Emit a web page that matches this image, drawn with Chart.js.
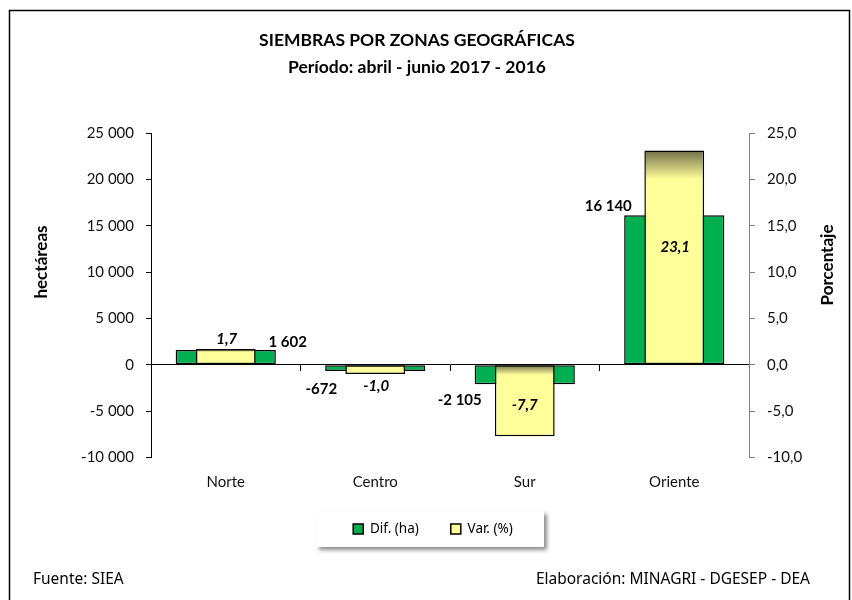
<!DOCTYPE html>
<html lang="es">
<head>
<meta charset="utf-8">
<title>Siembras por zonas geográficas</title>
<script src="https://cdn.jsdelivr.net/npm/chart.js@4.4.1/dist/chart.umd.min.js"></script>
<style>
  html, body { margin: 0; padding: 0; background: #fff; }
</style>
</head>
<body>
<canvas id="siembrasChart" width="852" height="600"></canvas>
<script>
// datos
const zonas = ['Norte', 'Centro', 'Sur', 'Oriente'];
const difHa = [1602, -672, -2105, 16140];
const varPct = [1.7, -1.0, -7.7, 23.1];
const ticksHa = [-10000, -5000, 0, 5000, 10000, 15000, 20000, 25000];
const ticksPct = [-10, -5, 0, 5, 10, 15, 20, 25];

function fmtHa(v) {
    const s = Math.abs(Math.round(v)).toString().replace(/\B(?=(\d{3})+(?!\d))/g, ' ');
    return (v < 0 ? '-' : '') + s;
}
function fmtPct(v) {
    return v.toFixed(1).replace('.', ',');
}

// relleno amarillo con sombreado oscuro en el borde superior de cada barra
function varFill(ctx) {
    const yellow = '#FFFF99';
    if (ctx.type !== 'data') return yellow;
    const chart = ctx.chart;
    const sc = chart.scales.y1;
    if (!sc || !chart.chartArea) return yellow;
    const a = sc.getPixelForValue(ctx.raw);
    const b = sc.getPixelForValue(0);
    const top = Math.min(a, b);
    const h = Math.abs(a - b);
    const g = chart.ctx.createLinearGradient(0, top, 0, top + h * 0.13 + 1);
    g.addColorStop(0, '#726E48');
    g.addColorStop(1, yellow);
    return g;
}

// desplazamientos de las etiquetas respecto al extremo de cada barra
const labelOffsets = {
    dif: [[62, -8], [-54, 18], [-65, 16], [-66, -9]],
    pct: [[1, -10], [1, 12], [0, -31], [1, 97]]
};

const frameAndLabels = {
    id: 'frameAndLabels',
    afterLayout(chart) {
        chart.legend.left += 16;
        chart.legend.right += 16;
    },
    beforeDraw(chart) {
        const ctx = chart.ctx;
        ctx.save();
        ctx.fillStyle = '#fff';
        ctx.fillRect(0, 0, chart.width, chart.height);
        ctx.strokeStyle = '#000';
        ctx.lineWidth = 1.5;
        ctx.strokeRect(9.5, 10.5, 840, 620);

        // caja de la leyenda con sombra
        const lg = chart.legend;
        const cx = (lg.left + lg.right) / 2 - 3;
        ctx.shadowColor = 'rgba(0,0,0,0.45)';
        ctx.shadowBlur = 4;
        ctx.shadowOffsetX = 3;
        ctx.shadowOffsetY = 3;
        ctx.fillStyle = '#fff';
        ctx.fillRect(cx - 114, 511, 228, 36);
        ctx.restore();
    },
    afterDatasetsDraw(chart) {
        const ctx = chart.ctx;
        ctx.save();
        ctx.fillStyle = '#000';
        ctx.textAlign = 'center';
        ctx.textBaseline = 'middle';

        ctx.font = 'bold 15px Lato';
        chart.getDatasetMeta(0).data.forEach((bar, i) => {
            const o = labelOffsets.dif[i];
            ctx.fillText(fmtHa(difHa[i]), bar.x + o[0], bar.y + o[1]);
        });
        ctx.font = 'italic bold 15px Lato';
        chart.getDatasetMeta(1).data.forEach((bar, i) => {
            const o = labelOffsets.pct[i];
            ctx.fillText(fmtPct(varPct[i]), bar.x + o[0], bar.y + o[1]);
        });

        // titulos de ejes
        ctx.font = 'bold 17px Lato';
        ctx.save();
        ctx.translate(42, 262);
        ctx.rotate(-Math.PI / 2);
        ctx.fillText('hectáreas', 0, 0);
        ctx.restore();
        ctx.save();
        ctx.translate(828, 265);
        ctx.rotate(-Math.PI / 2);
        ctx.fillText('Porcentaje', 0, 0);
        ctx.restore();

        // notas al pie
        ctx.font = '15.5px "Noto Sans"';
        ctx.textAlign = 'left';
        ctx.fillText('Fuente: SIEA', 33, 580);
        ctx.textAlign = 'right';
        ctx.fillText('Elaboración: MINAGRI - DGESEP - DEA', 810, 580);
        ctx.restore();
    }
};

Chart.defaults.font.family = 'Lato';
Chart.defaults.color = '#000';

const data = {
    labels: zonas,
    datasets: [{
        label: 'Dif. (ha)',
        data: difHa,
        yAxisID: 'y',
        backgroundColor: '#00B050',
        borderColor: '#000',
        borderWidth: 1.5,
        borderSkipped: false,
        barPercentage: 0.67,
        categoryPercentage: 1,
        grouped: false,
        order: 1
    }, {
        label: 'Var. (%)',
        data: varPct,
        yAxisID: 'y1',
        backgroundColor: varFill,
        borderColor: '#000',
        borderWidth: 1.5,
        borderSkipped: false,
        barPercentage: 0.40,
        categoryPercentage: 1,
        grouped: false,
        order: 0
    }]
};

const config = {
    type: 'bar',
    data: data,
    plugins: [frameAndLabels],
    options: {
        responsive: false,
        animation: false,
        layout: {
            padding: { top: 0, left: 0, right: 18, bottom: 54.25 }
        },
        plugins: {
            title: {
                display: true,
                text: 'SIEMBRAS POR ZONAS GEOGRÁFICAS',
                font: { size: 17.5, weight: 'bold' },
                padding: { top: 29.5, bottom: 4 }
            },
            subtitle: {
                display: true,
                text: 'Período: abril - junio 2017 - 2016',
                color: '#000',
                font: { size: 17.5, weight: 'bold' },
                padding: { top: 2, bottom: 55.5 }
            },
            legend: {
                position: 'bottom',
                labels: {
                    boxWidth: 10,
                    boxHeight: 10,
                    padding: 32,
                    font: { size: 13.5, family: '"Noto Sans"' },
                    sort: (a, b) => a.datasetIndex - b.datasetIndex
                }
            },
            tooltip: { enabled: false }
        },
        scales: {
            x: {
                position: { y: 0 },
                offset: true,
                grid: {
                    display: true,
                    offset: true,
                    drawOnChartArea: false,
                    drawTicks: true,
                    tickLength: 6,
                    color: '#000'
                },
                border: { display: true, color: '#000', width: 1 },
                ticks: { display: false }
            },
            x2: {
                type: 'category',
                position: 'bottom',
                offset: true,
                grid: { display: false, drawTicks: false },
                border: { display: false },
                ticks: { padding: 16, color: '#111', font: { size: 15 } },
                afterFit: (s) => { s.height = 32.75; }
            },
            y: {
                position: 'left',
                min: ticksHa[0],
                max: ticksHa[ticksHa.length - 1],
                grid: {
                    drawOnChartArea: false,
                    drawTicks: true,
                    tickLength: 5,
                    color: '#000'
                },
                border: { display: true, color: '#000' },
                ticks: {
                    stepSize: ticksHa[1] - ticksHa[0],
                    padding: 12,
                    color: '#111',
                    font: { size: 15 },
                    callback: (v) => fmtHa(v)
                },
                afterFit: (s) => { s.width = 151; }
            },
            y1: {
                position: 'right',
                min: ticksPct[0],
                max: ticksPct[ticksPct.length - 1],
                grid: {
                    drawOnChartArea: false,
                    drawTicks: true,
                    tickLength: 6,
                    color: '#808080'
                },
                border: { display: true, color: '#808080' },
                ticks: {
                    stepSize: ticksPct[1] - ticksPct[0],
                    padding: 12,
                    color: '#111',
                    font: { size: 15 },
                    callback: (v) => fmtPct(v)
                },
                afterFit: (s) => { s.width = 85; }
            }
        }
    }
};

const siembrasChart = new Chart(document.getElementById('siembrasChart'), config);
</script>
</body>
</html>
